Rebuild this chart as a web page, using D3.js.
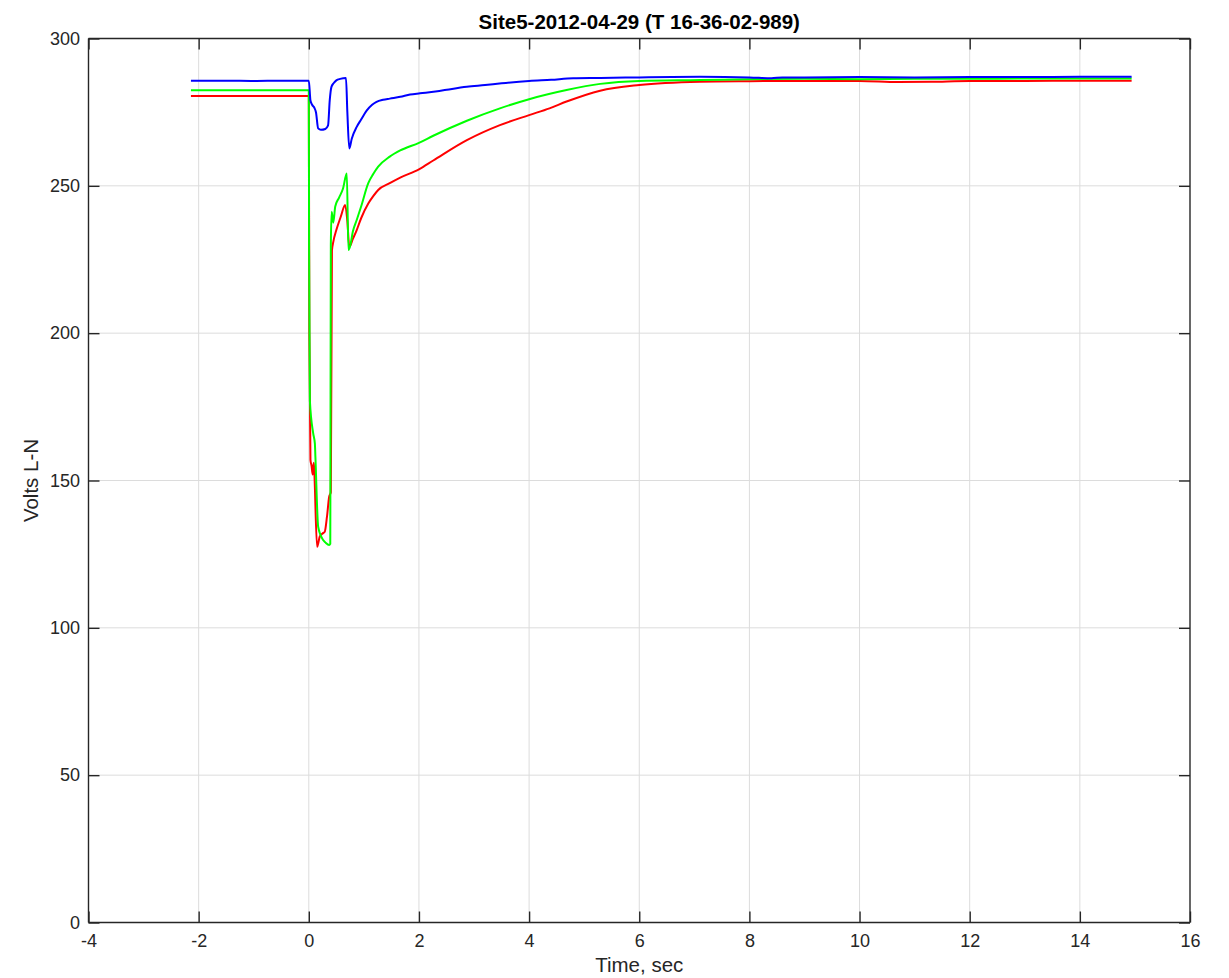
<!DOCTYPE html>
<html>
<head>
<meta charset="utf-8">
<script src="https://cdn.jsdelivr.net/npm/d3@7"></script>
<style>
  html, body { margin: 0; padding: 0; background: #fff; }
  svg { display: block; }
  text { font-family: "Liberation Sans", Arial, Helvetica, sans-serif; fill: #262626; }
</style>
</head>
<body>
<svg id="chart" width="1229" height="978"></svg>
<script>
// ---- data ----
const chartTitle = "Site5-2012-04-29 (T 16-36-02-989)";
const xLabel = "Time, sec";
const yLabel = "Volts L-N";
const xTicks = [-4, -2, 0, 2, 4, 6, 8, 10, 12, 14, 16];
const yTicks = [0, 50, 100, 150, 200, 250, 300];

const timeBlue = [-2.14, -1.5, -1, -0.5, 0, 0.03, 0.06, 0.1, 0.13, 0.17, 0.22, 0.3, 0.35, 0.38, 0.41, 0.45, 0.5, 0.57, 0.675, 0.70, 0.735, 0.78, 0.87, 0.95, 1.05, 1.15, 1.23, 1.35, 1.47, 1.66, 1.84, 2.02, 2.3, 2.6, 2.87, 3.2, 3.5, 4.0, 4.4, 4.8, 5.3, 6.0, 7.1, 8.0, 8.4, 8.6, 9, 10, 11, 12, 13, 14, 14.94];
const voltsBlue = [285.7, 285.7, 285.6, 285.7, 285.7, 279, 277.5, 276.5, 275, 269.5, 269, 269.3, 270.5, 279, 283.5, 284.8, 285.8, 286.3, 286.6, 275, 262.7, 266, 270, 272.5, 275.5, 277.5, 278.5, 279.2, 279.6, 280.2, 281, 281.4, 282, 282.9, 283.6, 284.2, 284.8, 285.6, 286, 286.5, 286.6, 286.8, 287.0, 286.8, 286.5, 286.8, 286.8, 286.9, 286.8, 286.9, 286.9, 287, 287];

const timeGreen = [-2.14, -1, 0, 0.005, 0.02, 0.08, 0.11, 0.12, 0.17, 0.26, 0.3, 0.37, 0.39, 0.40, 0.415, 0.445, 0.48, 0.55, 0.62, 0.69, 0.72, 0.75, 0.8, 0.87, 0.95, 1.08, 1.17, 1.26, 1.47, 1.66, 2.0, 2.26, 2.87, 3.47, 4.0, 4.68, 5.29, 6.0, 7.1, 8, 9, 10, 11, 12, 13, 14, 14.94];
const voltsGreen = [282.4, 282.4, 282.4, 230, 177, 166, 162.6, 158, 134.3, 129.8, 129, 128.1, 128.5, 230, 241.2, 237.5, 243, 246, 249, 254.2, 228.2, 229.5, 234.5, 238.4, 243, 250.9, 254, 256.5, 259.9, 262.0, 264.6, 267.0, 272.1, 276.3, 279.4, 282.5, 284.6, 285.6, 285.9, 286.2, 286.3, 286.2, 286.3, 286.3, 286.4, 286.4, 286.4];

const timeRed = [-2.14, -1, 0, 0.01, 0.03, 0.05, 0.07, 0.09, 0.1, 0.15, 0.2, 0.25, 0.29, 0.33, 0.37, 0.40, 0.42, 0.445, 0.5, 0.58, 0.66, 0.70, 0.735, 0.8, 0.87, 0.95, 1.08, 1.17, 1.26, 1.47, 1.66, 2.0, 2.26, 2.87, 3.47, 4.0, 4.37, 4.68, 5.29, 6.0, 7.1, 8, 9, 10, 10.7, 11.3, 12, 13, 14, 14.94];
const voltsRed = [280.5, 280.5, 280.5, 200, 157, 155, 152, 156, 153, 127.5, 131, 132, 132.6, 137.7, 144.5, 146, 228, 231, 235, 239.5, 243.5, 238, 229.3, 232, 235, 239, 244, 246.5, 248.6, 250.9, 252.8, 255.6, 258.6, 265.5, 270.6, 274.0, 276.3, 278.6, 282.3, 284.2, 285.3, 285.5, 285.6, 285.6, 285.2, 285.3, 285.6, 285.6, 285.7, 285.7];

const seriesColors = ["#ff0000", "#00ff00", "#0000ff"];

// ---- layout ----
const svg = d3.select("#chart");
const pLeft = 88.5, pRight = 1190, pTop = 38.5, pBottom = 922.5;
const x = d3.scaleLinear().domain([-4, 16]).range([pLeft, pRight]);
const y = d3.scaleLinear().domain([0, 300]).range([pBottom, pTop]);
const axisColor = "#262626";
const tickLen = 11;

// grid
const grid = svg.append("g");
grid.selectAll("line.vx").data(xTicks.slice(1, -1)).join("line")
  .attr("x1", d => x(d)).attr("x2", d => x(d))
  .attr("y1", pTop).attr("y2", pBottom)
  .attr("stroke", "#dcdcdc").attr("stroke-width", 1);
grid.selectAll("line.hy").data(yTicks.slice(1, -1)).join("line")
  .attr("x1", pLeft).attr("x2", pRight)
  .attr("y1", d => y(d)).attr("y2", d => y(d))
  .attr("stroke", "#dcdcdc").attr("stroke-width", 1);

// series
const series = [
  { t: timeRed, v: voltsRed },
  { t: timeGreen, v: voltsGreen },
  { t: timeBlue, v: voltsBlue }
];
const line = d3.line().curve(d3.curveMonotoneX).x(d => x(d[0])).y(d => y(d[1]));
series.forEach((s, i) => {
  const pts = s.t.map((t, k) => [t, s.v[k]]);
  svg.append("path").datum(pts)
    .attr("d", line)
    .attr("fill", "none")
    .attr("stroke", seriesColors[i])
    .attr("stroke-width", 2)
    .attr("stroke-linejoin", "round");
});

// axes with inward ticks
const fmt = d => String(d);
const xb = d3.axisBottom(x).tickValues(xTicks).tickSize(-tickLen).tickPadding(11.5).tickFormat(fmt);
const xt = d3.axisTop(x).tickValues(xTicks).tickSize(-tickLen).tickFormat("");
const yl = d3.axisLeft(y).tickValues(yTicks).tickSize(-tickLen).tickPadding(8.5).tickFormat(fmt);
const yr = d3.axisRight(y).tickValues(yTicks).tickSize(-tickLen).tickFormat("");

function style(g) {
  g.select(".domain").attr("stroke", axisColor).attr("stroke-width", 1.4);
  g.selectAll(".tick line").attr("stroke", axisColor).attr("stroke-width", 1.4);
  g.selectAll(".tick text").attr("fill", axisColor)
    .style("font-size", "18px").style("font-family", '"Liberation Sans", Arial, sans-serif');
}
svg.append("g").attr("transform", `translate(0,${pBottom})`).call(xb).call(style)
  .call(g => g.selectAll(".domain").attr("d", `M${pLeft},0H${pRight}`));
svg.append("g").attr("transform", `translate(0,${pTop})`).call(xt).call(style)
  .call(g => g.selectAll(".domain").attr("d", `M${pLeft},0H${pRight}`));
svg.append("g").attr("transform", `translate(${pLeft},0)`).call(yl).call(style)
  .call(g => g.selectAll(".domain").attr("d", `M0,${pTop}V${pBottom}`));
svg.append("g").attr("transform", `translate(${pRight},0)`).call(yr).call(style)
  .call(g => g.selectAll(".domain").attr("d", `M0,${pTop}V${pBottom}`));

// title and labels
svg.append("text").attr("x", (pLeft + pRight) / 2).attr("y", 28.5)
  .attr("text-anchor", "middle").style("font-size", "20.5px").style("font-weight", "bold")
  .style("fill", "#000").text(chartTitle);
svg.append("text").attr("x", (pLeft + pRight) / 2).attr("y", 972)
  .attr("text-anchor", "middle").style("font-size", "20.5px").text(xLabel);
svg.append("text").attr("transform", `translate(38,${(pTop + pBottom) / 2}) rotate(-90)`)
  .attr("text-anchor", "middle").style("font-size", "20.5px").text(yLabel);
</script>
</body>
</html>
